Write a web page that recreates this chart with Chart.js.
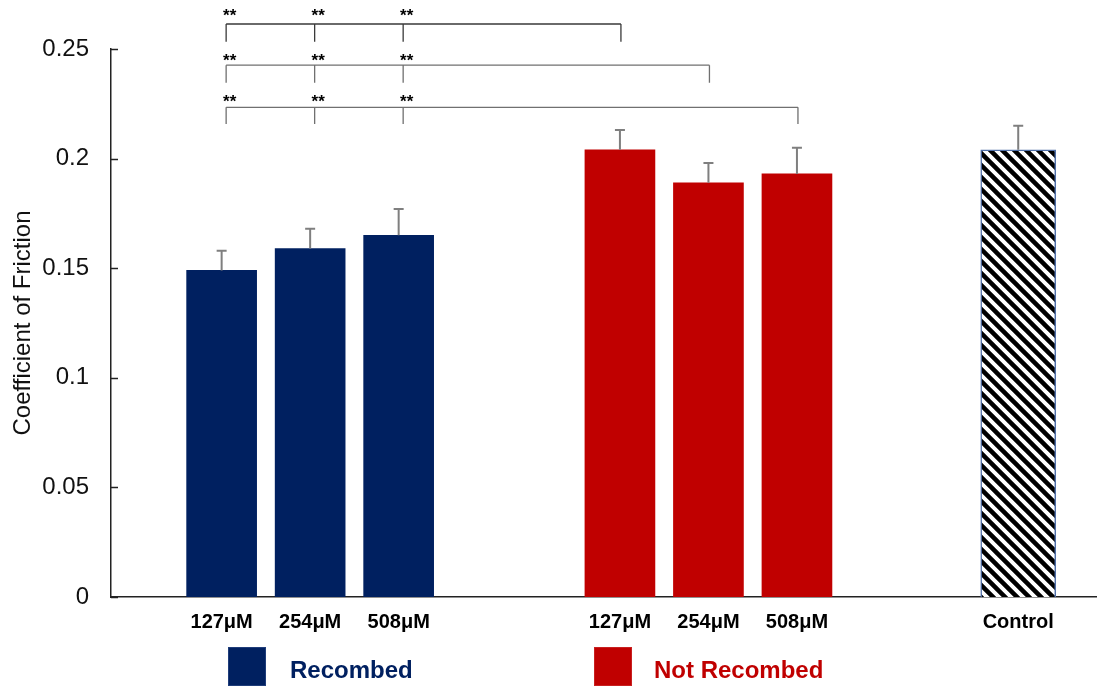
<!DOCTYPE html>
<html><head><meta charset="utf-8">
<script src="https://cdn.jsdelivr.net/npm/chart.js@4.4.0/dist/chart.umd.min.js"></script>
<style>html,body{margin:0;padding:0;background:#fff;} #wrap{width:1097px;height:687px;position:relative;}</style>
</head><body><div id="wrap"><canvas id="c"></canvas></div>
<script>
const concentrations = ['127μM', '254μM', '508μM'];
const controlLabels = ['Control'];
const seriesNames = ['Recombed', 'Not Recombed'];
const recombed = [0.149, 0.159, 0.165];
const recombedErr = [0.009, 0.009, 0.012];
const notRecombed = [0.204, 0.189, 0.193];
const notRecombedErr = [0.009, 0.009, 0.012];
const control = [0.204];
const controlErr = [0.011];
const yTickLabels = ['0', '0.05', '0.1', '0.15', '0.2', '0.25'];
const sigMark = '**';
const yTitle = 'Coefficient of Friction';

const FONT = "'Liberation Sans', Arial, sans-serif";
const GROUP_GAP = 1.5;
const n = concentrations.length;
const xRec = concentrations.map((_, i) => i);
const xNot = concentrations.map((_, i) => i + n + GROUP_GAP);
const xCtl = controlLabels.map((_, i) => i + 2 * n + 2 * GROUP_GAP);
const tickPos = [...xRec, ...xNot, ...xCtl];
const tickText = [...concentrations, ...concentrations, ...controlLabels];

const stripe = (() => {
  const p = 12, c = document.createElement('canvas');
  c.width = p; c.height = p;
  const g = c.getContext('2d');
  g.fillStyle = '#fff'; g.fillRect(0, 0, p, p);
  g.strokeStyle = '#000'; g.lineWidth = 4.5; g.lineCap = 'square';
  g.beginPath();
  for (const o of [-p, 0, p]) { g.moveTo(o - 3, -3); g.lineTo(o + p + 3, p + 3); }
  g.stroke();
  return g.createPattern(c, 'repeat');
})();

const overlay = {
  id: 'overlay',
  afterDatasetsDraw(chart) {
    const ctx = chart.ctx, ys = chart.scales.y;
    ctx.save();
    const errs = [recombedErr, notRecombedErr, controlErr];
    chart.data.datasets.forEach((ds, d) => {
      const meta = chart.getDatasetMeta(d);
      meta.data.forEach((el, i) => {
        const v = ds.data[i].y, e = errs[d][i];
        const yt = ys.getPixelForValue(v + e), yb = ys.getPixelForValue(v);
        ctx.strokeStyle = '#7f7f7f'; ctx.lineWidth = 2;
        ctx.beginPath();
        ctx.moveTo(el.x, yb); ctx.lineTo(el.x, yt);
        ctx.moveTo(el.x - 5, yt); ctx.lineTo(el.x + 5, yt);
        ctx.stroke();
      });
    });
    ctx.restore();
  },
  afterDraw(chart) {
    const ctx = chart.ctx, ys = chart.scales.y, xs = chart.scales.x;
    const area = chart.chartArea;
    ctx.save();
    ctx.strokeStyle = '#222'; ctx.lineWidth = 1.5;
    ys.ticks.forEach(t => {
      const y = Math.round(ys.getPixelForValue(t.value)) + 0.5;
      ctx.beginPath(); ctx.moveTo(area.left, y); ctx.lineTo(area.left + 7, y); ctx.stroke();
    });
    const rows = [[0.2614, 0.2533, 0.2670, '#3a3a3a'], [0.2426, 0.2346, 0.2468, '#707070'], [0.2234, 0.2158, 0.2280, '#707070']];
    rows.forEach((r, j) => {
      const [yh, yb, yst, col] = r;
      const ph = ys.getPixelForValue(yh), pb = ys.getPixelForValue(yb), pst = ys.getPixelForValue(yst);
      const px = xRec.map(v => xs.getPixelForValue(v) + 4.5);
      const pe = xs.getPixelForValue(xNot[j]) + 1;
      const all = [...px, pe];
      ctx.strokeStyle = col; ctx.lineWidth = 1.3;
      ctx.beginPath();
      ctx.moveTo(all[0], ph); ctx.lineTo(all[all.length - 1], ph);
      all.forEach(x => { ctx.moveTo(x, ph); ctx.lineTo(x, pb); });
      ctx.stroke();
      ctx.fillStyle = '#000'; ctx.font = 'bold 17px ' + FONT;
      ctx.textAlign = 'center'; ctx.textBaseline = 'alphabetic';
      px.forEach(x => ctx.fillText(sigMark, x + 3.5, pst + 9.5));
    });
    const leg = [[228, '#002060', '#1f3d7a', seriesNames[0], 290], [594, '#C00000', '#c82020', seriesNames[1], 654]];
    leg.forEach(([x, fill, edge, txt, tx]) => {
      ctx.fillStyle = fill; ctx.fillRect(x, 647, 38, 39);
      ctx.strokeStyle = edge; ctx.lineWidth = 1; ctx.strokeRect(x + 0.5, 647.5, 37, 38);
      ctx.font = 'bold 24px ' + FONT; ctx.textAlign = 'left'; ctx.textBaseline = 'alphabetic';
      ctx.fillText(txt, tx, 678);
    });
    ctx.restore();
  }
};

new Chart(document.getElementById('c'), {
  type: 'bar',
  data: {
    datasets: [
      { label: seriesNames[0], data: xRec.map((x, i) => ({ x, y: recombed[i] })), backgroundColor: '#002060', barThickness: 70, grouped: false },
      { label: seriesNames[1], data: xNot.map((x, i) => ({ x, y: notRecombed[i] })), backgroundColor: '#C00000', barThickness: 70, grouped: false },
      { label: controlLabels[0], data: xCtl.map((x, i) => ({ x, y: control[i] })), backgroundColor: stripe, borderColor: '#4f6fa8', borderWidth: 1.5, barThickness: 75, grouped: false }
    ]
  },
  options: {
    responsive: true, maintainAspectRatio: false, animation: false,
    layout: { padding: { top: 49, left: 0, right: 0, bottom: 0 } },
    plugins: { legend: { display: false }, tooltip: { enabled: false } },
    scales: {
      x: {
        type: 'linear', min: -1.25, max: 9.89, offset: false,
        grid: { display: false },
        border: { display: true, color: '#222', width: 1.5 },
        afterBuildTicks: s => { s.ticks = tickPos.map(v => ({ value: v })); },
        afterFit: s => { s.height = 90; },
        ticks: {
          autoSkip: false, maxRotation: 0, padding: 5, color: '#000',
          font: { family: FONT, size: 20, weight: 'bold' },
          callback: (v, i) => tickText[i]
        }
      },
      y: {
        min: 0, max: 0.25,
        grid: { display: false },
        border: { display: true, color: '#222', width: 1.5 },
        afterBuildTicks: s => { s.ticks = yTickLabels.map(t => ({ value: parseFloat(t) })); },
        afterFit: s => { s.width = 111; },
        ticks: {
          padding: 14, color: '#111',
          font: { family: FONT, size: 24 },
          callback: (v, i) => yTickLabels[i]
        },
        title: {
          display: true, text: yTitle, color: '#111',
          font: { family: FONT, size: 24 },
          padding: { top: 9, bottom: 0 }
        }
      }
    }
  },
  plugins: [overlay]
});
</script>
</body></html>
